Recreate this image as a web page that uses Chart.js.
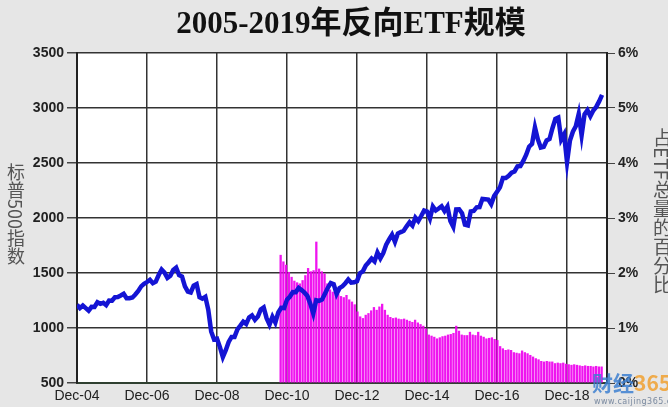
<!DOCTYPE html>
<html lang="zh">
<head>
<meta charset="UTF-8">
<title>2005-2019年反向ETF规模</title>
<script src="https://cdn.jsdelivr.net/npm/chart.js@4"></script>
<style>
  body { margin: 0; background: #e6e6e6; }
  .wrap { position: relative; width: 668px; height: 407px; overflow: hidden; background: #e6e6e6; }
  canvas { position: absolute; left: 0; top: 0; }
  .title {
    position: absolute; left: 17px; top: 5px; width: 668px; text-align: center;
    font: bold 31px "Liberation Serif", "Noto Sans CJK SC", serif; color: #111; line-height: 36px;
  }
  .vtitle {
    position: absolute; writing-mode: vertical-rl; font-family: "Noto Sans CJK SC", sans-serif;
    color: #555; line-height: 1;
  }
  .mark { position: absolute; left: 592px; top: 372px; white-space: nowrap; font: bold 21px "Noto Sans CJK SC", sans-serif; opacity: 0.85; line-height: 1; }
  .mark .a { color: #3c7fd0; }
  .mark .b { color: #f0a030; }
  .url { position: absolute; left: 594px; top: 397px; white-space: nowrap; font: 8px "DejaVu Sans", sans-serif; color: #7a8aa0; letter-spacing: 0.5px; }
</style>
</head>
<body>
<div class="wrap">
  <canvas id="c" width="668" height="407"></canvas>
  <div class="title">2005-2019年反向ETF规模</div>
  <div class="vtitle" style="left:7px; top:163px; font-size:18px;">标普500指数</div>
  <div class="vtitle" style="left:653px; top:128px; font-size:19px;">占ETF总量的百分比</div>
  <div class="mark"><span class="a">财经</span><span class="b">365</span></div>
  <div class="url">www.caijing365.com</div>
</div>
<script>
  // 标普500指数, monthly, Dec-04 .. Dec-19
  const spx = [
    1212,
    1181, 1204, 1181, 1157, 1192, 1191, 1234, 1220, 1229, 1207, 1249, 1248,
    1280, 1281, 1295, 1311, 1270, 1270, 1277, 1304, 1336, 1378, 1401, 1418,
    1438, 1407, 1421, 1482, 1531, 1503, 1455, 1474, 1527, 1549, 1481, 1468,
    1379, 1331, 1323, 1386, 1400, 1280, 1267, 1283, 1166, 969, 896, 903,
    826, 735, 798, 873, 919, 919, 987, 1021, 1057, 1036, 1096, 1115,
    1074, 1104, 1169, 1187, 1089, 1031, 1102, 1049, 1141, 1183, 1181, 1258,
    1286, 1327, 1326, 1364, 1345, 1321, 1292, 1219, 1131, 1253, 1247, 1258,
    1312, 1366, 1408, 1398, 1310, 1362, 1379, 1407, 1441, 1412, 1416, 1426,
    1498, 1515, 1569, 1598, 1631, 1606, 1686, 1633, 1682, 1757, 1806, 1848,
    1783, 1859, 1872, 1884, 1924, 1960, 1931, 2003, 1972, 2018, 2068, 2059,
    1995, 2105, 2068, 2086, 2107, 2063, 2104, 1972, 1920, 2079, 2080, 2044,
    1940, 1932, 2060, 2065, 2097, 2099, 2174, 2171, 2168, 2126, 2199, 2239,
    2279, 2364, 2363, 2384, 2412, 2423, 2470, 2472, 2519, 2575, 2648, 2674,
    2824, 2714, 2641, 2648, 2705, 2718, 2816, 2902, 2914, 2712, 2760, 2507,
    2704, 2784, 2834, 2946, 2752, 2942, 2980, 2926, 2977, 3010, 3060, 3120
  ];

  // 反向ETF占ETF总量的百分比 (%), from late 2010 to end of 2019
  const etfShare = [
    2.33, 2.21, 2.15, 2.02, 1.93, 1.86, 1.83, 1.81, 1.87, 1.96,
    2.09, 2.03, 2.05, 2.57, 2.08, 2.03, 1.99, 1.81, 1.70, 1.66,
    1.69, 1.62, 1.58, 1.56, 1.60, 1.52, 1.48, 1.43, 1.30, 1.21,
    1.18, 1.24, 1.27, 1.32, 1.38, 1.33, 1.39, 1.44, 1.33, 1.24,
    1.20, 1.18, 1.19, 1.17, 1.16, 1.17, 1.15, 1.13, 1.11, 1.15,
    1.10, 1.07, 1.04, 0.99, 0.88, 0.86, 0.84, 0.81, 0.83, 0.85,
    0.86, 0.88, 0.89, 0.91, 1.04, 0.95, 0.88, 0.87, 0.87, 0.93,
    0.88, 0.87, 0.93, 0.86, 0.84, 0.81, 0.82, 0.83, 0.80, 0.78,
    0.67, 0.63, 0.60, 0.61, 0.60, 0.56, 0.55, 0.54, 0.59, 0.56,
    0.54, 0.51, 0.48, 0.45, 0.43, 0.40, 0.39, 0.40, 0.39, 0.39,
    0.36, 0.37, 0.36, 0.37, 0.35, 0.34, 0.33, 0.34, 0.33, 0.32,
    0.31, 0.32, 0.31, 0.31, 0.30, 0.31, 0.30, 0.30
  ];

  const xTickMonths = [0, 24, 48, 72, 96, 120, 144, 168];
  const xLabels = ['Dec-04', 'Dec-06', 'Dec-08', 'Dec-10', 'Dec-12', 'Dec-14', 'Dec-16', 'Dec-18'];

  const plotBg = {
    id: 'plotBg',
    beforeDraw(c) {
      const { ctx, chartArea: a } = c;
      ctx.save();
      ctx.fillStyle = '#ffffff';
      ctx.fillRect(a.left, a.top, a.right - a.left, a.bottom - a.top);
      ctx.restore();
    }
  };

  const tickFont = { family: 'Liberation Sans', size: 14, weight: 'bold' };

  new Chart(document.getElementById('c'), {
    type: 'line',
    data: {
      datasets: [
        {
          type: 'line',
          label: '标普500指数',
          data: spx.map((v, i) => ({ x: i, y: v })),
          xAxisID: 'x',
          yAxisID: 'y',
          borderColor: '#1414d4',
          borderWidth: 4.5,
          pointRadius: 0,
          tension: 0,
          order: 0
        },
        {
          type: 'bar',
          label: '占ETF总量的百分比',
          data: etfShare.map((v, i) => ({ x: i, y: v })),
          xAxisID: 'xb',
          yAxisID: 'y2',
          backgroundColor: 'rgba(238,0,238,0.92)',
          barThickness: 2.3,
          inflateAmount: 0,
          order: 1
        }
      ]
    },
    options: {
      responsive: false,
      animation: false,
      devicePixelRatio: 1,
      layout: { padding: { top: 53, left: 0, right: 0, bottom: 0 } },
      plugins: { legend: { display: false }, tooltip: { enabled: false } },
      scales: {
        x: {
          type: 'linear',
          min: 0,
          max: 181.7,
          offset: false,
          afterBuildTicks: s => { s.ticks = xTickMonths.map(v => ({ value: v })); },
          afterFit: s => { s.height = 24; },
          ticks: {
            callback: v => xLabels[xTickMonths.indexOf(v)],
            font: { family: 'Liberation Sans', size: 14 },
            color: '#222',
            padding: 5,
            maxRotation: 0,
            autoSkip: false
          },
          grid: { color: '#333', lineWidth: 1.5, drawTicks: false },
          border: { color: '#2f4030', width: 2 }
        },
        xb: {
          type: 'linear',
          display: false,
          offset: false,
          min: -73.81,
          max: 119.37
        },
        y: {
          position: 'left',
          min: 500,
          max: 3500,
          afterFit: s => { s.width = 77; },
          ticks: { stepSize: 500, callback: v => String(v), font: tickFont, color: '#222', padding: 3 },
          grid: { color: '#333', lineWidth: 1.5, tickLength: 10, tickColor: '#444' },
          border: { color: '#222', width: 2 }
        },
        y2: {
          position: 'right',
          min: 0,
          max: 6,
          afterFit: s => { s.width = 61; },
          ticks: { stepSize: 1, callback: v => v + '%', font: tickFont, color: '#222', padding: 3 },
          grid: { drawOnChartArea: false, tickLength: 8, tickColor: '#444' },
          border: { color: '#222', width: 2 }
        }
      }
    },
    plugins: [plotBg]
  });
</script>
</body>
</html>
